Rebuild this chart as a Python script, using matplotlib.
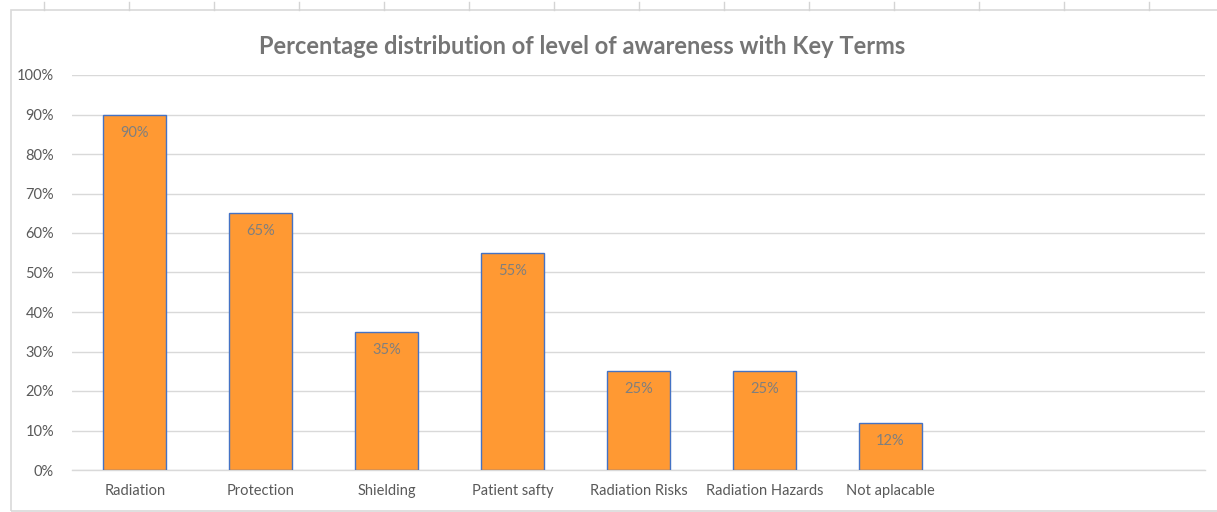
import matplotlib
matplotlib.use("Agg")
import matplotlib.pyplot as plt
from matplotlib.lines import Line2D
from matplotlib.patches import Rectangle
from matplotlib.ticker import MultipleLocator, PercentFormatter

plt.rcParams['font.family'] = ['Lato', 'DejaVu Sans']

# key terms and share of respondents aware of each (two trailing empty slots)
terms = ["Radiation", "Protection", "Shielding", "Patient safty",
         "Radiation Risks", "Radiation Hazards", "Not aplacable", "", ""]
awareness = [0.90, 0.65, 0.35, 0.55, 0.25, 0.25, 0.12]

W, H = 1217, 512
fig = plt.figure(figsize=(W / 100, H / 100), dpi=100)

# worksheet cell borders peeking above the chart object
for xc in range(44, W, 85):
    fig.add_artist(Line2D([xc / W, xc / W], [1 - 2 / H, 1 - 10 / H],
                          color="#d4d4d4", lw=1.0))
# chart frame
fig.add_artist(Rectangle((11 / W, 1 / H), (W + 20 - 11) / W, (H - 11) / H,
                         fill=False, edgecolor="#d9d9d9", lw=1.2))

ax = fig.add_axes([72 / W, (H - 470) / H, (1205 - 72) / W, (470 - 75) / H])

x = list(range(len(awareness)))
bars = ax.bar(x, awareness, width=0.5, color="#ff9933",
              edgecolor="#4472c4", linewidth=1.0, zorder=3)

for b, v in zip(bars, awareness):
    ax.annotate(f"{v:.0%}", (b.get_x() + b.get_width() / 2, v),
                xytext=(0, -13), textcoords="offset points",
                ha="center", va="center", fontsize=10.5, color="#7f7f7f",
                zorder=4)

ax.set_xlim(-0.5, len(terms) - 0.5)
ax.set_ylim(0, 1.0)
ax.set_xticks(range(len(terms)))
ax.set_xticklabels(terms)
ax.yaxis.set_major_locator(MultipleLocator(0.1))
ax.yaxis.set_major_formatter(PercentFormatter(1.0, decimals=0))

ax.tick_params(axis="both", length=0, labelsize=10.5, labelcolor="#595959")
ax.tick_params(axis="y", pad=13)
ax.tick_params(axis="x", pad=10)
ax.grid(axis="y", color="#d9d9d9", lw=1.0, zorder=0)
for side in ("top", "right", "left"):
    ax.spines[side].set_visible(False)
ax.spines["bottom"].set_color("#d9d9d9")
ax.spines["bottom"].set_linewidth(1.0)

fig.text(582 / W, 1 - 47 / H,
         "Percentage distribution of level of awareness with Key Terms",
         ha="center", va="center", fontsize=17, fontweight="bold",
         color="#757575")

fig.savefig("out.png", dpi=100)
